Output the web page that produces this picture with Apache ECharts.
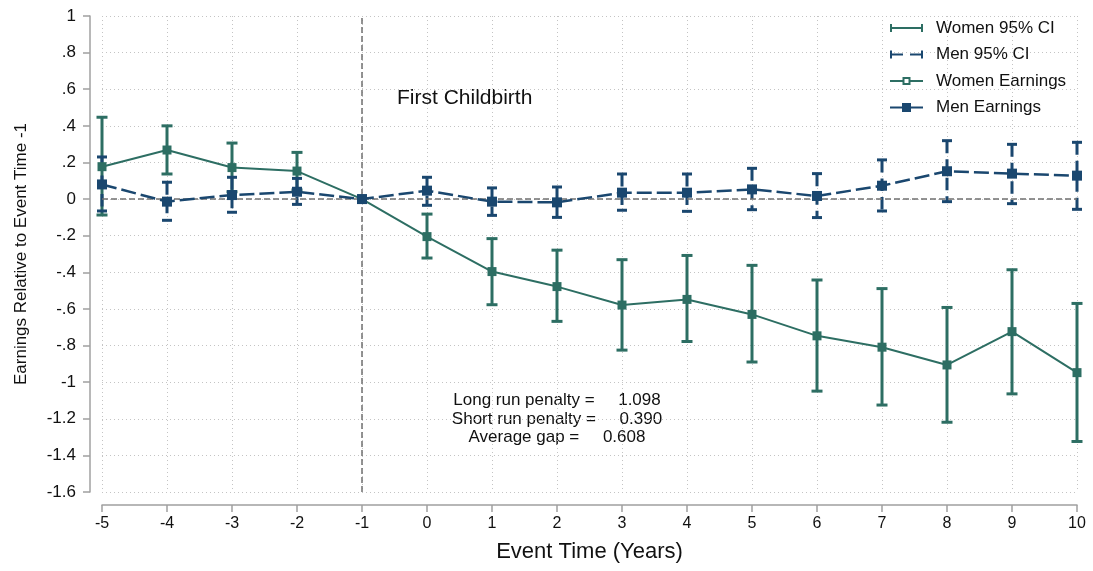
<!DOCTYPE html>
<html>
<head>
<meta charset="utf-8">
<title>Child penalty event study</title>
<script src="https://cdn.jsdelivr.net/npm/echarts@6/dist/echarts.min.js"></script>
<style>
html, body { margin: 0; padding: 0; background: #fff; }
#chart { width: 1093px; height: 571px; }
</style>
</head>
<body>
<div id="chart"></div>
<script>
// event time (years relative to first birth)
const eventTime = [-5, -4, -3, -2, -1, 0, 1, 2, 3, 4, 5, 6, 7, 8, 9, 10];

// women: point estimate + 95% CI (no CI at the reference year -1)
const womenEarnings = [0.177, 0.268, 0.172, 0.153, 0, -0.205, -0.396, -0.478, -0.579, -0.548, -0.630, -0.747, -0.809, -0.906, -0.724, -0.948];
const womenLow = [-0.087, 0.137, 0.040, 0.050, null, -0.322, -0.577, -0.668, -0.825, -0.778, -0.890, -1.049, -1.125, -1.219, -1.064, -1.324];
const womenHigh = [0.447, 0.400, 0.306, 0.255, null, -0.082, -0.216, -0.279, -0.331, -0.308, -0.362, -0.442, -0.489, -0.592, -0.386, -0.570];

// men
const menEarnings = [0.080, -0.014, 0.022, 0.040, 0, 0.046, -0.014, -0.018, 0.035, 0.035, 0.053, 0.017, 0.073, 0.152, 0.139, 0.128];
const menLow = [-0.065, -0.116, -0.072, -0.029, null, -0.034, -0.089, -0.100, -0.061, -0.067, -0.058, -0.101, -0.065, -0.014, -0.025, -0.056];
const menHigh = [0.230, 0.092, 0.119, 0.113, null, 0.119, 0.061, 0.066, 0.137, 0.137, 0.168, 0.139, 0.214, 0.319, 0.299, 0.310];

const penaltyLines = ['Long run penalty =     1.098', 'Short run penalty =     0.390', 'Average gap =     0.608'];

const womenColor = '#2d6e63';
const menColor = '#1a476f';
const fontFamily = '"Liberation Sans", Arial, sans-serif';

function ciData(low, high) {
    return eventTime
        .map((t, i) => (low[i] == null ? null : [t, low[i], high[i]]))
        .filter(d => d);
}

function lineData(vals) {
    return eventTime.map((t, i) => [t, vals[i]]);
}

// vertical bar with caps
function makeCiRender(capW, dash) {
    return function (params, api) {
        const x = api.value(0);
        const top = api.coord([x, api.value(2)]);
        const bot = api.coord([x, api.value(1)]);
        const color = api.visual('color');
        const capStyle = { stroke: color, lineWidth: 3 };
        return {
            type: 'group',
            children: [
                { type: 'line', shape: { x1: top[0], y1: top[1], x2: bot[0], y2: bot[1] },
                  style: { stroke: color, lineWidth: 3, lineDash: dash } },
                { type: 'line', shape: { x1: top[0] - capW / 2, y1: top[1], x2: top[0] + capW / 2, y2: top[1] }, style: capStyle },
                { type: 'line', shape: { x1: bot[0] - capW / 2, y1: bot[1], x2: bot[0] + capW / 2, y2: bot[1] }, style: capStyle }
            ]
        };
    };
}

// Stata style labels: .2, -.4, 0
function stataLabel(v) {
    const r = Math.round(v * 10) / 10;
    if (r === 0) return '0';
    return String(r).replace(/^(-?)0\./, '$1.');
}

const myChart = echarts.init(document.getElementById('chart'));

const option = {
    animation: false,
    backgroundColor: '#fff',
    grid: { left: 102, right: 16, top: 16, bottom: 79 },
    legend: {
        orient: 'vertical',
        left: 890,
        top: 19.5,
        padding: 0,
        itemWidth: 33,
        itemHeight: 10,
        itemGap: 9.5,
        selectedMode: false,
        itemStyle: { borderWidth: 0 },
        textStyle: { fontSize: 17, fontFamily: fontFamily, color: '#111', lineHeight: 17, padding: [0, 0, 0, 8] },
        data: [
            { name: 'Women 95% CI', icon: 'path://M0,1H2V4H31V1H33V9H31V6H2V9H0Z' },
            { name: 'Men 95% CI', icon: 'path://M0,1H2V4H13V6H2V9H0Z M20,4H31V1H33V9H31V6H20Z' },
            { name: 'Women Earnings', icon: 'path://M0,4H12.5V1H20.5V4H33V6H20.5V9H12.5V6H0Z M14.5,3V7H18.5V3Z' },
            { name: 'Men Earnings', icon: 'path://M0,4H12V0.5H21V4H33V6H21V9.5H12V6H0Z' }
        ]
    },
    xAxis: {
        type: 'value',
        min: -5,
        max: 10,
        interval: 1,
        offset: 13,
        name: 'Event Time (Years)',
        nameLocation: 'middle',
        nameGap: 36,
        nameTextStyle: { fontSize: 22, color: '#111', fontFamily: fontFamily },
        axisLine: { show: true, onZero: false, lineStyle: { color: '#a0a0a0', width: 1.5 } },
        axisTick: { show: true, length: 7, lineStyle: { color: '#a0a0a0', width: 1.5 } },
        axisLabel: { fontSize: 16, color: '#111', margin: 11, fontFamily: fontFamily },
        splitLine: { show: true, lineStyle: { type: [1, 3], color: '#c4c4c4', width: 1 } }
    },
    yAxis: {
        type: 'value',
        min: -1.6,
        max: 1,
        interval: 0.2,
        offset: 12,
        name: 'Earnings Relative to Event Time -1',
        nameLocation: 'middle',
        nameGap: 60,
        nameTextStyle: { fontSize: 17, color: '#111', fontFamily: fontFamily },
        axisLine: { show: true, onZero: false, lineStyle: { color: '#a0a0a0', width: 1.5 } },
        axisTick: { show: true, length: 7, lineStyle: { color: '#a0a0a0', width: 1.5 } },
        axisLabel: { fontSize: 17, color: '#111', margin: 14, fontFamily: fontFamily, formatter: stataLabel },
        splitLine: { show: true, lineStyle: { type: [1, 3], color: '#c4c4c4', width: 1 } }
    },
    series: [
        {
            name: 'Women 95% CI',
            type: 'custom',
            z: 2,
            itemStyle: { color: womenColor },
            encode: { x: 0, y: [1, 2] },
            renderItem: makeCiRender(11, null),
            data: ciData(womenLow, womenHigh)
        },
        {
            name: 'Men 95% CI',
            type: 'custom',
            z: 3,
            itemStyle: { color: menColor },
            encode: { x: 0, y: [1, 2] },
            renderItem: makeCiRender(10, [12.5, 6]),
            data: ciData(menLow, menHigh)
        },
        {
            name: 'Women Earnings',
            type: 'line',
            z: 4,
            symbol: 'rect',
            symbolSize: 9,
            itemStyle: { color: womenColor },
            lineStyle: { color: womenColor, width: 2 },
            data: lineData(womenEarnings),
            markLine: {
                silent: true,
                symbol: 'none',
                label: { show: false },
                lineStyle: { color: '#707070', type: [6, 3], width: 1.5 },
                data: [{ yAxis: 0 }, { xAxis: -1 }]
            }
        },
        {
            name: 'Men Earnings',
            type: 'line',
            z: 5,
            symbol: 'rect',
            symbolSize: 10,
            itemStyle: { color: menColor },
            lineStyle: { color: menColor, width: 2.5, type: [15, 5] },
            data: lineData(menEarnings)
        }
    ],
    graphic: [
        {
            type: 'text',
            left: 397,
            top: 88,
            style: { text: 'First Childbirth', fontSize: 21, fill: '#111', fontFamily: fontFamily }
        },
        {
            type: 'text',
            x: 557,
            y: 419,
            style: {
                text: penaltyLines.join('\n'),
                fontSize: 17,
                lineHeight: 18.5,
                align: 'center',
                verticalAlign: 'middle',
                fill: '#111',
                fontFamily: fontFamily
            }
        }
    ]
};

myChart.setOption(option);
</script>
</body>
</html>
